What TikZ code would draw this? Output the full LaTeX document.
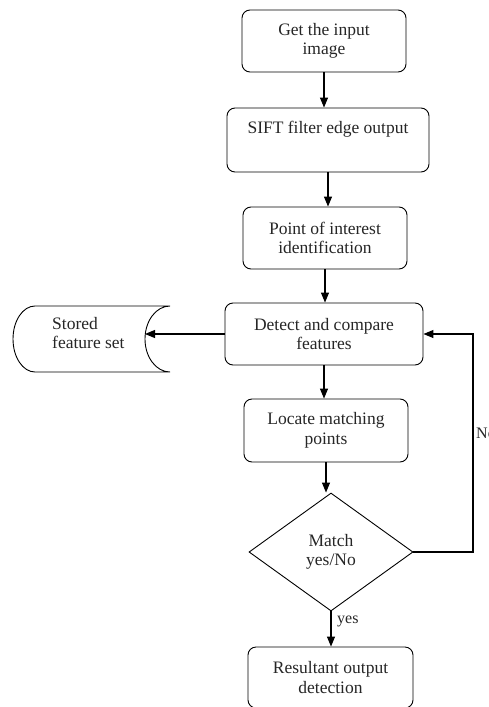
\documentclass[tikz,border=0pt]{standalone}
\usepackage{fontspec}
\setmainfont{Liberation Serif}
\usetikzlibrary{arrows.meta,shapes.geometric,calc}
\tikzset{
  box/.style={draw, rounded corners=8pt, line width=0.9pt, align=center, inner sep=0pt,
    font=\fontsize{17.5}{19.5}\selectfont, text=black!85},
  dec/.style={draw, diamond, line width=0.9pt, align=center, inner sep=0pt,
    font=\fontsize{17.5}{19.5}\selectfont, text=black!85},
  arr/.style={draw, line width=1.1pt, -{Triangle[length=10pt,width=8pt]}},
  lbl/.style={font=\fontsize{16}{18}\selectfont, text=black!85, inner sep=0pt}
}
\begin{document}
\begin{tikzpicture}[x=1pt,y=1pt]
\useasboundingbox (0,0) rectangle (489,-707);
\node[box, minimum width=164pt, minimum height=62pt] (b1) at (324,-41) {Get the input\\image};
\node[box, minimum width=202pt, minimum height=64pt] (b2) at (328,-140) {SIFT filter edge output\\\strut};
\node[box, minimum width=164pt, minimum height=62pt] (b3) at (325,-238) {Point of interest\\identification};
\node[box, minimum width=198pt, minimum height=62pt] (b4) at (324,-334) {Detect and compare\\features};
\node[box, minimum width=164pt, minimum height=63pt] (b5) at (326,-430.5) {Locate matching\\points};
\node[dec, minimum width=164pt, minimum height=118pt] (d) at (331,-552) {Match\\yes/No};
\node[box, minimum width=165pt, minimum height=61pt] (b6) at (330.5,-677.5) {Resultant output\\detection};
% stored feature set
\draw[line width=0.9pt] (35,-306) -- (170,-306)
  arc[start angle=90, end angle=270, x radius=25, y radius=33]
  -- (35,-372)
  arc[start angle=270, end angle=90, x radius=22, y radius=33] -- cycle;
\node[lbl, font=\fontsize{17.5}{19.5}\selectfont, anchor=west, align=left] (store) at (52,-333) {Stored\\feature set};
\coordinate (sdent) at (145,-339);
% connectors
\draw[arr] (b1.south) -- (b1.south |- b2.north);
\draw[arr] (b2.south) -- (b2.south |- b3.north);
\draw[arr] (b3.south) -- (b3.south |- b4.north);
\draw[arr] (b4.south) -- (b4.south |- b5.north);
\draw[arr] (b5.south) -- (b5.south |- d.north);
\draw[arr] (d.south) -- (d.south |- b6.north);
\draw[arr] (b4.west) -- (b4.west -| sdent);
\coordinate (fb) at (473,-552);
\draw[arr] (d.east) -- (fb) |- (b4.east);
\node[lbl, anchor=west] (no) at (476,-433) {No};
\node[lbl, anchor=west] (yes) at (337,-621) {yes};
\end{tikzpicture}
\end{document}
